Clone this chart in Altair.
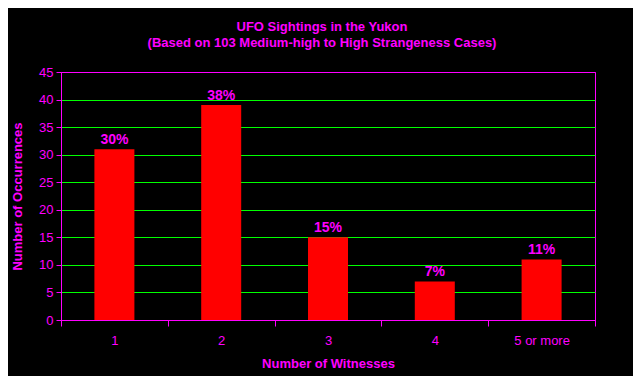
import altair as alt
import pandas as pd

categories = ["1", "2", "3", "4", "5 or more"]
counts = [31, 39, 15, 7, 11]
percents = ["30%", "38%", "15%", "7%", "11%"]

df = pd.DataFrame({"witnesses": categories, "count": counts, "pct": percents})

MAG = "#FF00FF"
GREEN = "#00FF00"
FONT = "Liberation Sans"

x = alt.X("witnesses:N", sort=categories, title="Number of Witnesses",
          scale=alt.Scale(paddingInner=0, paddingOuter=0),
          axis=alt.Axis(labelAngle=0, tickBand="extent", grid=False,
                        domainColor=MAG, tickColor=MAG, labelColor=MAG,
                        titleColor=MAG, labelFont=FONT, titleFont=FONT,
                        labelFontSize=13, titleFontSize=13, titleFontWeight="bold",
                        tickSize=6, labelPadding=8, titlePadding=10))
y = alt.Y("count:Q", title="Number of Occurrences",
          scale=alt.Scale(domain=[0, 45], nice=False),
          axis=alt.Axis(values=list(range(0, 50, 5)), grid=True, labelOverlap=False,
                        gridColor={"condition": {"test": "datum.value === 45 || datum.value === 0", "value": MAG}, "value": GREEN},
                        gridOpacity=1,
                        domainColor=MAG, tickColor=MAG, labelColor=MAG,
                        titleColor=MAG, labelFont=FONT, titleFont=FONT,
                        labelFontSize=13, titleFontSize=13, titleFontWeight="bold",
                        tickSize=5, labelPadding=3, titlePadding=14))

bars = alt.Chart(df).mark_bar(color="#FF0000", size=40).encode(x=x, y=y)
text = alt.Chart(df).mark_text(color=MAG, font=FONT, fontSize=14, fontWeight="bold",
                               dy=-9).encode(x=x, y=y, text="pct:N")

chart = (bars + text).properties(
    width=534, height=248,
    background="black",
    padding={"left": 53, "top": 64, "right": 38, "bottom": 56},
    autosize=alt.AutoSizeParams(type="none"),
    title=alt.TitleParams(["UFO Sightings in the Yukon",
                           "(Based on 103 Medium-high to High Strangeness Cases)"],
                          color=MAG, font=FONT, fontSize=13, fontWeight="bold",
                          anchor="middle", offset=16, lineHeight=16, dx=-6),
).configure_view(stroke=MAG, strokeWidth=1)

chart.save("out.html", embed_options={"renderer": "svg", "actions": False})
